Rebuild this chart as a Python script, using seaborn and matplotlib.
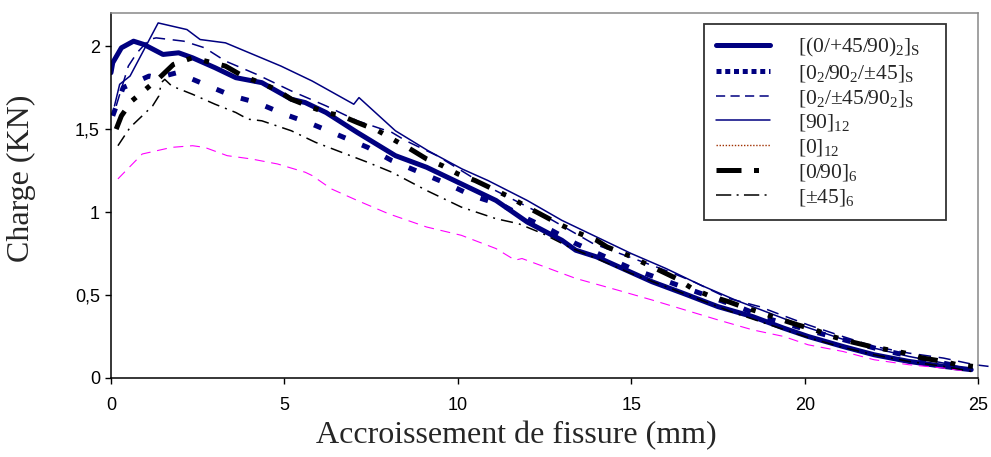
import pandas as pd
import seaborn as sns
import matplotlib.pyplot as plt
from matplotlib.lines import Line2D

# Données (accroissement en mm, charge en KN)
x1 = [0, 0.05, 0.3, 0.65, 0.95, 1.5, 1.95, 2.35, 3.0, 3.6, 4.35, 5.2, 5.6, 6.2, 7.1, 8.2, 9.1, 10.1,
      11.1, 12.0, 13.0, 13.4, 14.0, 15.6, 16.5, 17.5, 18.5, 19.4, 20.1, 21.1, 22.0, 23.0, 24.0, 24.8]
y1 = [1.84, 1.90, 1.99, 2.03, 2.01, 1.95, 1.96, 1.93, 1.87, 1.81, 1.78, 1.68, 1.66, 1.60, 1.48, 1.34, 1.27, 1.17,
      1.07, 0.94, 0.83, 0.77, 0.73, 0.58, 0.51, 0.43, 0.37, 0.30, 0.25, 0.19, 0.14, 0.10, 0.07, 0.05]

x2 = [0.05, 0.35, 1.1, 1.35, 1.9, 2.7, 3.5, 4.2, 5.0, 5.8, 6.6, 7.4, 8.1, 8.9, 9.7, 10.4, 11.3, 12.0,
      12.7, 13.4, 15.0, 15.8, 17.0, 18.2, 18.9, 20.6, 22.2, 23.5, 24.7]
y2 = [1.58, 1.75, 1.82, 1.81, 1.84, 1.77, 1.70, 1.66, 1.59, 1.53, 1.46, 1.39, 1.31, 1.24, 1.17, 1.10, 1.04, 0.96,
      0.89, 0.81, 0.66, 0.60, 0.51, 0.42, 0.36, 0.26, 0.17, 0.11, 0.06]

x3 = [0.15, 0.5, 0.75, 1.1, 1.3, 2.1, 2.7, 3.3, 4.2, 5.2, 6.2, 7.1, 8.1, 8.5, 9.4, 10.8, 12.4, 13.9,
      16.1, 16.8, 17.8, 18.7, 19.2, 20.1, 21.1, 22.0, 23.0, 24.0, 24.9, 25.3]
y3 = [1.64, 1.88, 1.96, 2.04, 2.05, 2.03, 1.99, 1.91, 1.83, 1.73, 1.64, 1.55, 1.48, 1.43, 1.34, 1.16, 0.99, 0.81,
      0.64, 0.58, 0.48, 0.43, 0.39, 0.32, 0.25, 0.19, 0.15, 0.12, 0.08, 0.07]

x4 = [0.1, 0.25, 0.55, 1.36, 2.19, 2.57, 3.3, 4.9, 5.8, 7.0, 7.15, 8.2, 9.14, 10.12, 10.87, 12.0, 13.0,
      14.0, 15.0, 16.0, 17.0, 18.0, 19.0, 20.0, 21.0, 22.0, 23.0, 24.0, 24.8]
y4 = [1.64, 1.77, 1.82, 2.14, 2.10, 2.04, 2.02, 1.88, 1.79, 1.65, 1.69, 1.49, 1.37, 1.26, 1.19, 1.07, 0.95,
      0.85, 0.75, 0.66, 0.56, 0.47, 0.39, 0.31, 0.24, 0.18, 0.13, 0.09, 0.05]

x5 = [0.2, 0.9, 1.75, 2.35, 2.7, 3.35, 4.05, 4.8, 5.6, 5.8, 6.35, 7.1, 8.0, 9.1, 10.1, 11.1, 11.65, 11.85,
      12.5, 13.4, 14.6, 15.6, 16.55, 17.5, 18.5, 19.4, 20.1, 21.1, 22.0, 23.0, 24.0, 24.7]
y5 = [1.20, 1.35, 1.39, 1.40, 1.39, 1.34, 1.32, 1.29, 1.24, 1.22, 1.14, 1.07, 0.99, 0.91, 0.86, 0.78, 0.71, 0.72,
      0.67, 0.60, 0.53, 0.47, 0.41, 0.35, 0.29, 0.25, 0.20, 0.16, 0.11, 0.08, 0.06, 0.04]

x6 = [0.15, 0.3, 0.6, 1.4, 1.8, 2.35, 3.3, 3.8, 4.3, 4.75, 5.2, 5.8, 6.2, 6.65, 7.1, 7.7, 8.2, 8.55, 9.1,
      9.55, 10.0, 10.5, 11.1, 11.5, 12.0, 12.45, 12.9, 13.4, 14.0, 14.3, 14.9, 15.3, 15.8, 16.3, 16.75,
      17.2, 17.8, 18.2, 18.8, 19.35, 19.8, 20.3, 20.8, 21.3, 21.9, 22.4, 22.9, 23.4, 24.0, 24.4, 24.85]
y6 = [1.50, 1.58, 1.67, 1.81, 1.89, 1.93, 1.88, 1.82, 1.78, 1.74, 1.68, 1.63, 1.60, 1.58, 1.54, 1.49, 1.43, 1.39, 1.32,
      1.28, 1.23, 1.19, 1.13, 1.09, 1.03, 0.98, 0.93, 0.88, 0.83, 0.79, 0.74, 0.70, 0.65, 0.60, 0.54,
      0.50, 0.46, 0.43, 0.39, 0.35, 0.32, 0.29, 0.25, 0.22, 0.19, 0.17, 0.15, 0.12, 0.10, 0.08, 0.07]

x7 = [0.2, 0.55, 0.8, 1.2, 1.38, 1.45, 1.55, 1.75, 2.35, 3.0, 3.6, 3.95, 4.35, 5.2, 5.9, 6.65, 7.4, 8.1,
      9.1, 10.1, 11.1, 11.75, 12.45, 13.2, 14.0, 15.0, 16.0, 17.0, 18.0, 19.0, 20.0, 21.0, 22.0, 23.0, 24.0, 24.8]
y7 = [1.40, 1.51, 1.56, 1.64, 1.70, 1.78, 1.80, 1.76, 1.71, 1.65, 1.60, 1.56, 1.55, 1.49, 1.42, 1.36, 1.30, 1.24,
      1.13, 1.03, 0.96, 0.93, 0.87, 0.79, 0.72, 0.63, 0.55, 0.47, 0.39, 0.32, 0.25, 0.19, 0.14, 0.10, 0.07, 0.04]

labels = [r"[(0/+45/90)$_2$]$_\mathrm{S}$", r"[0$_2$/90$_2$/±45]$_\mathrm{S}$", r"[0$_2$/±45/90$_2$]$_\mathrm{S}$",
          r"[90]$_{12}$", r"[0]$_{12}$", r"[0/90]$_6$", r"[±45]$_6$"]

yticks = [0, 0.5, 1, 1.5, 2]
ytick_labels = ["0", "0,5", "1", "1,5", "2"]
xticks = [0, 5, 10, 15, 20, 25]

navy = "#000080"

sns.set_theme(style="ticks")
plt.rcParams['font.family'] = ['Liberation Serif', 'DejaVu Serif']
plt.rcParams['mathtext.fontset'] = 'custom'
plt.rcParams['mathtext.rm'] = 'Liberation Serif'
plt.rcParams['mathtext.it'] = 'Liberation Serif:italic'

fig = plt.figure(figsize=(9.91, 4.57), dpi=100)
ax = fig.add_axes([0.112, 0.1729, 0.875, 0.7987])

# styles des courbes (comme dans le graphique Excel)
styles = [
    (x1, y1, dict(color=navy, lw=3.6, linestyle='-')),
    (x2, y2, dict(color=navy, lw=3.6, linestyle=(0, (1.6, 3.6)))),
    (x3, y3, dict(color=navy, lw=1.1, linestyle=(0, (8, 5)))),
    (x4, y4, dict(color=navy, lw=1.1, linestyle='-')),
    (x5, y5, dict(color="#FF00FF", lw=0.8, linestyle=(0, (9, 6)))),
    (x6, y6, dict(color="black", lw=3.6, linestyle=(0, (4, 2.6, 1, 2.6, 1, 2.6)))),
    (x7, y7, dict(color="black", lw=1.1, linestyle=(0, (8, 4, 1.3, 4)))),
]
for i, (xs, ys, kw) in enumerate(styles):
    df = pd.DataFrame({'x': xs, 'y': ys})
    sns.lineplot(data=df, x='x', y='y', ax=ax, estimator=None, sort=False, **kw)
    if i == 2:
        ax.lines[-1].set_clip_on(False)

ax.set_xlim(0, 25)
ax.set_ylim(0, 2.2)
ax.set_xticks(xticks)
ax.set_yticks(yticks)
ax.set_yticklabels(ytick_labels)
for t in ax.get_xticklabels() + ax.get_yticklabels():
    t.set_fontfamily('Liberation Sans')
    t.set_fontsize(13)
ax.tick_params(axis='x', length=4, width=1, pad=10, colors='black')
ax.tick_params(axis='y', length=4, width=1, pad=4, colors='black')

for side in ['left', 'bottom']:
    ax.spines[side].set_color('black')
    ax.spines[side].set_linewidth(1.1)
for side in ['top', 'right']:
    ax.spines[side].set_visible(True)
    ax.spines[side].set_color('#888888')
    ax.spines[side].set_linewidth(1.1)

ax.set_xlabel("Accroissement de fissure (mm)", fontsize=23)
ax.set_ylabel("Charge (KN)", fontsize=23)
ax.xaxis.set_label_coords(0.468, -0.118)
ax.yaxis.set_label_coords(-0.086, 0.548)

# légende construite à la main (styles de la légende Excel)
handles = [
    Line2D([], [], color=navy, lw=3.6),
    Line2D([], [], color=navy, lw=3.6, linestyle=(0, (1, 0.75))),
    Line2D([], [], color=navy, lw=1.1, linestyle=(0, (6, 3.5))),
    Line2D([], [], color=navy, lw=1.1),
    Line2D([], [], color="#A03000", lw=1.0, linestyle=(0, (1, 1.2))),
    Line2D([], [], color="black", lw=3.6, linestyle=(0, (5, 2.5, 1, 20))),
    Line2D([], [], color="black", lw=1.1, linestyle=(0, (10, 3.5, 1.3, 3.5))),
]
leg = ax.legend(handles, labels, loc='upper left', mode='expand',
                bbox_to_anchor=(704 / 991, 1 - 221 / 457, 242 / 991, 197 / 457),
                bbox_transform=fig.transFigure, fontsize=15.5, frameon=True, fancybox=False,
                edgecolor='black', handlelength=2.5, handletextpad=1.3, labelspacing=0.18,
                borderpad=0.55, borderaxespad=0)
leg.get_frame().set_linewidth(1.3)
leg.get_frame().set_facecolor('white')

plt.savefig('out.png', dpi=100)
